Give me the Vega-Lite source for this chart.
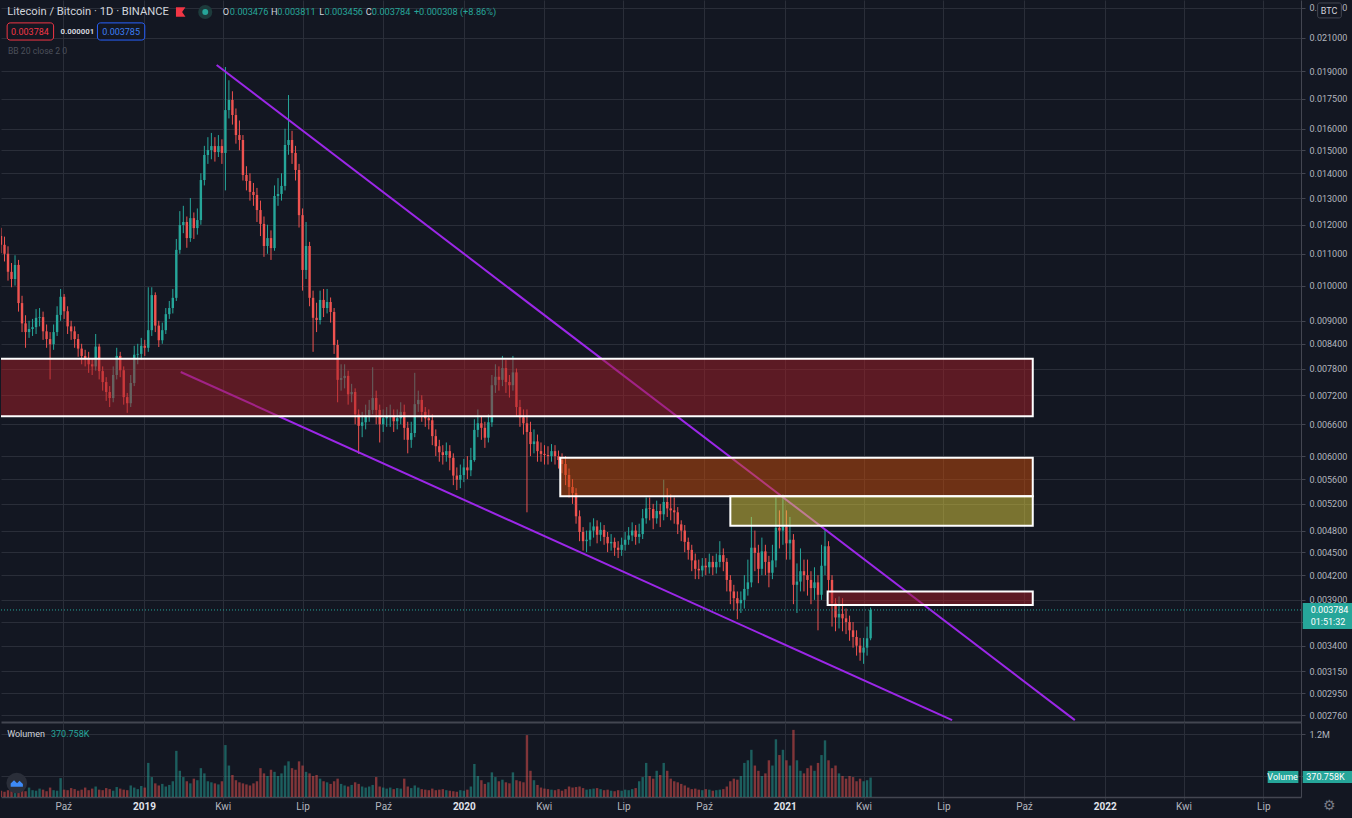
{
  "$schema": "https://vega.github.io/schema/vega-lite/v6.json",
  "description": "Litecoin / Bitcoin daily chart with falling wedge and supply zones",
  "background": "#131722",
  "padding": {"left": 0, "top": 0, "right": 0, "bottom": 4},
  "spacing": 0,
  "config": {
    "view": {"stroke": null},
    "axis": {
      "gridColor": "#2a2e39",
      "gridWidth": 1,
      "labelColor": "#b2b5be",
      "labelFont": "Roboto",
      "labelFontSize": 9,
      "tickColor": "#434651",
      "domainColor": "#434651"
    },
    "text": {"font": "Roboto"}
  },
  "datasets": {
    "candles": [
      {"t":"2018-07-22","o":0.0116,"h":0.01189,"l":0.01102,"c":0.0113,"v":120000},
      {"t":"2018-07-26","o":0.0113,"h":0.01158,"l":0.01075,"c":0.011,"v":100000},
      {"t":"2018-07-30","o":0.011,"h":0.01125,"l":0.01015,"c":0.01042,"v":130000},
      {"t":"2018-08-03","o":0.01042,"h":0.0107,"l":0.00995,"c":0.0102,"v":110000},
      {"t":"2018-08-07","o":0.0102,"h":0.01095,"l":0.01,"c":0.01064,"v":150000},
      {"t":"2018-08-11","o":0.01064,"h":0.0108,"l":0.00925,"c":0.00949,"v":120000},
      {"t":"2018-08-15","o":0.00949,"h":0.0097,"l":0.0087,"c":0.00893,"v":140000},
      {"t":"2018-08-19","o":0.00893,"h":0.00915,"l":0.0083,"c":0.0087,"v":110000},
      {"t":"2018-08-23","o":0.0087,"h":0.009,"l":0.00855,"c":0.00878,"v":180000},
      {"t":"2018-08-27","o":0.00878,"h":0.00905,"l":0.0086,"c":0.00883,"v":130000},
      {"t":"2018-08-31","o":0.00883,"h":0.00932,"l":0.00865,"c":0.00908,"v":120000},
      {"t":"2018-09-04","o":0.00908,"h":0.00935,"l":0.00885,"c":0.0091,"v":160000},
      {"t":"2018-09-08","o":0.0091,"h":0.00925,"l":0.0085,"c":0.00872,"v":140000},
      {"t":"2018-09-12","o":0.00872,"h":0.0089,"l":0.0083,"c":0.00852,"v":110000},
      {"t":"2018-09-16","o":0.00852,"h":0.0087,"l":0.00755,"c":0.00839,"v":180000},
      {"t":"2018-09-20","o":0.00839,"h":0.0089,"l":0.00825,"c":0.0087,"v":130000},
      {"t":"2018-09-24","o":0.0087,"h":0.0094,"l":0.0086,"c":0.00916,"v":120000},
      {"t":"2018-09-28","o":0.00916,"h":0.0099,"l":0.009,"c":0.00967,"v":360000},
      {"t":"2018-10-02","o":0.00967,"h":0.00975,"l":0.00905,"c":0.00926,"v":140000},
      {"t":"2018-10-06","o":0.00926,"h":0.0094,"l":0.00865,"c":0.00885,"v":130000},
      {"t":"2018-10-10","o":0.00885,"h":0.009,"l":0.0085,"c":0.00872,"v":170000},
      {"t":"2018-10-14","o":0.00872,"h":0.00885,"l":0.0083,"c":0.00852,"v":150000},
      {"t":"2018-10-18","o":0.00852,"h":0.00865,"l":0.00808,"c":0.00828,"v":120000},
      {"t":"2018-10-22","o":0.00828,"h":0.0084,"l":0.0079,"c":0.0081,"v":140000},
      {"t":"2018-10-26","o":0.0081,"h":0.00825,"l":0.00785,"c":0.00805,"v":180000},
      {"t":"2018-10-30","o":0.00805,"h":0.0082,"l":0.0077,"c":0.0079,"v":130000},
      {"t":"2018-11-03","o":0.0079,"h":0.00805,"l":0.00765,"c":0.00785,"v":160000},
      {"t":"2018-11-07","o":0.00785,"h":0.00865,"l":0.00775,"c":0.00833,"v":200000},
      {"t":"2018-11-11","o":0.00833,"h":0.0084,"l":0.00755,"c":0.00774,"v":140000},
      {"t":"2018-11-15","o":0.00774,"h":0.00785,"l":0.0073,"c":0.00749,"v":130000},
      {"t":"2018-11-19","o":0.00749,"h":0.0076,"l":0.00708,"c":0.00727,"v":170000},
      {"t":"2018-11-23","o":0.00727,"h":0.0074,"l":0.00695,"c":0.00714,"v":150000},
      {"t":"2018-11-27","o":0.00714,"h":0.00785,"l":0.00705,"c":0.00765,"v":120000},
      {"t":"2018-12-01","o":0.00765,"h":0.0083,"l":0.00755,"c":0.0081,"v":190000},
      {"t":"2018-12-05","o":0.0081,"h":0.0082,"l":0.0076,"c":0.00776,"v":160000},
      {"t":"2018-12-09","o":0.00776,"h":0.00785,"l":0.007,"c":0.00716,"v":140000},
      {"t":"2018-12-13","o":0.00716,"h":0.00725,"l":0.00683,"c":0.00703,"v":130000},
      {"t":"2018-12-17","o":0.00703,"h":0.00765,"l":0.00695,"c":0.00747,"v":220000},
      {"t":"2018-12-21","o":0.00747,"h":0.00835,"l":0.0074,"c":0.00813,"v":180000},
      {"t":"2018-12-25","o":0.00813,"h":0.0084,"l":0.0079,"c":0.00815,"v":150000},
      {"t":"2018-12-29","o":0.00815,"h":0.00855,"l":0.008,"c":0.00835,"v":210000},
      {"t":"2019-01-02","o":0.00835,"h":0.0085,"l":0.0081,"c":0.0083,"v":180000},
      {"t":"2019-01-06","o":0.0083,"h":0.00995,"l":0.0082,"c":0.00875,"v":650000},
      {"t":"2019-01-10","o":0.00875,"h":0.00995,"l":0.0086,"c":0.00972,"v":380000},
      {"t":"2019-01-14","o":0.00972,"h":0.0098,"l":0.0087,"c":0.00887,"v":260000},
      {"t":"2019-01-18","o":0.00887,"h":0.009,"l":0.00832,"c":0.00849,"v":220000},
      {"t":"2019-01-22","o":0.00849,"h":0.00895,"l":0.0084,"c":0.00875,"v":250000},
      {"t":"2019-01-26","o":0.00875,"h":0.00935,"l":0.00865,"c":0.00918,"v":200000},
      {"t":"2019-01-30","o":0.00918,"h":0.00955,"l":0.00905,"c":0.00935,"v":230000},
      {"t":"2019-02-03","o":0.00935,"h":0.0099,"l":0.0092,"c":0.00964,"v":300000},
      {"t":"2019-02-07","o":0.00964,"h":0.0115,"l":0.00955,"c":0.01113,"v":880000},
      {"t":"2019-02-11","o":0.01113,"h":0.0125,"l":0.011,"c":0.01199,"v":500000},
      {"t":"2019-02-15","o":0.01199,"h":0.0127,"l":0.0117,"c":0.0121,"v":380000},
      {"t":"2019-02-19","o":0.0121,"h":0.0123,"l":0.0112,"c":0.01153,"v":300000},
      {"t":"2019-02-23","o":0.01153,"h":0.013,"l":0.0114,"c":0.01224,"v":260000},
      {"t":"2019-02-27","o":0.01224,"h":0.01245,"l":0.0115,"c":0.01188,"v":350000},
      {"t":"2019-03-03","o":0.01188,"h":0.0126,"l":0.01165,"c":0.01217,"v":320000},
      {"t":"2019-03-07","o":0.01217,"h":0.014,"l":0.012,"c":0.01372,"v":550000},
      {"t":"2019-03-11","o":0.01372,"h":0.0152,"l":0.0135,"c":0.01479,"v":450000},
      {"t":"2019-03-15","o":0.01479,"h":0.0156,"l":0.0144,"c":0.01501,"v":300000},
      {"t":"2019-03-19","o":0.01501,"h":0.0158,"l":0.0146,"c":0.01519,"v":280000},
      {"t":"2019-03-23","o":0.01519,"h":0.0156,"l":0.0145,"c":0.01492,"v":260000},
      {"t":"2019-03-27","o":0.01492,"h":0.0157,"l":0.0147,"c":0.01519,"v":240000},
      {"t":"2019-03-31","o":0.01519,"h":0.0155,"l":0.0144,"c":0.01488,"v":300000},
      {"t":"2019-04-04","o":0.01488,"h":0.01925,"l":0.0133,"c":0.01692,"v":990000},
      {"t":"2019-04-08","o":0.01692,"h":0.0185,"l":0.0165,"c":0.01744,"v":600000},
      {"t":"2019-04-12","o":0.01744,"h":0.0179,"l":0.0162,"c":0.01667,"v":420000},
      {"t":"2019-04-16","o":0.01667,"h":0.017,"l":0.0153,"c":0.0157,"v":320000},
      {"t":"2019-04-20","o":0.0157,"h":0.0164,"l":0.015,"c":0.01547,"v":280000},
      {"t":"2019-04-24","o":0.01547,"h":0.0157,"l":0.0137,"c":0.01393,"v":260000},
      {"t":"2019-04-28","o":0.01393,"h":0.0143,"l":0.0133,"c":0.01368,"v":240000},
      {"t":"2019-05-02","o":0.01368,"h":0.014,"l":0.0129,"c":0.01324,"v":220000},
      {"t":"2019-05-06","o":0.01324,"h":0.0136,"l":0.0127,"c":0.01312,"v":260000},
      {"t":"2019-05-10","o":0.01312,"h":0.0134,"l":0.0121,"c":0.01254,"v":300000},
      {"t":"2019-05-14","o":0.01254,"h":0.0129,"l":0.0116,"c":0.01203,"v":550000},
      {"t":"2019-05-18","o":0.01203,"h":0.0123,"l":0.0109,"c":0.01126,"v":450000},
      {"t":"2019-05-22","o":0.01126,"h":0.012,"l":0.011,"c":0.01153,"v":400000},
      {"t":"2019-05-26","o":0.01153,"h":0.0118,"l":0.0108,"c":0.01119,"v":520000},
      {"t":"2019-05-30","o":0.01119,"h":0.0135,"l":0.0111,"c":0.01308,"v":480000},
      {"t":"2019-06-03","o":0.01308,"h":0.0138,"l":0.0127,"c":0.01316,"v":400000},
      {"t":"2019-06-07","o":0.01316,"h":0.014,"l":0.0129,"c":0.01348,"v":450000},
      {"t":"2019-06-11","o":0.01348,"h":0.016,"l":0.0133,"c":0.01524,"v":600000},
      {"t":"2019-06-15","o":0.01524,"h":0.0177,"l":0.0148,"c":0.01547,"v":680000},
      {"t":"2019-06-19","o":0.01547,"h":0.0159,"l":0.0144,"c":0.01488,"v":550000},
      {"t":"2019-06-23","o":0.01488,"h":0.0152,"l":0.0137,"c":0.01414,"v":520000},
      {"t":"2019-06-27","o":0.01414,"h":0.0144,"l":0.0119,"c":0.01235,"v":680000},
      {"t":"2019-07-01","o":0.01235,"h":0.0126,"l":0.00985,"c":0.01048,"v":600000},
      {"t":"2019-07-05","o":0.01048,"h":0.0121,"l":0.0102,"c":0.01126,"v":480000},
      {"t":"2019-07-09","o":0.01126,"h":0.0114,"l":0.0094,"c":0.00964,"v":450000},
      {"t":"2019-07-13","o":0.00964,"h":0.00985,"l":0.0082,"c":0.00908,"v":400000},
      {"t":"2019-07-17","o":0.00908,"h":0.0095,"l":0.0087,"c":0.00902,"v":420000},
      {"t":"2019-07-21","o":0.00902,"h":0.00985,"l":0.0089,"c":0.00958,"v":350000},
      {"t":"2019-07-25","o":0.00958,"h":0.0099,"l":0.0091,"c":0.00935,"v":300000},
      {"t":"2019-07-29","o":0.00935,"h":0.0099,"l":0.0092,"c":0.00952,"v":280000},
      {"t":"2019-08-02","o":0.00952,"h":0.00965,"l":0.00895,"c":0.00924,"v":250000},
      {"t":"2019-08-06","o":0.00924,"h":0.00935,"l":0.00815,"c":0.00837,"v":300000},
      {"t":"2019-08-10","o":0.00837,"h":0.0085,"l":0.00705,"c":0.00754,"v":350000},
      {"t":"2019-08-14","o":0.00754,"h":0.0079,"l":0.0073,"c":0.00758,"v":250000},
      {"t":"2019-08-18","o":0.00758,"h":0.0079,"l":0.00735,"c":0.00763,"v":220000},
      {"t":"2019-08-22","o":0.00763,"h":0.00775,"l":0.007,"c":0.00722,"v":200000},
      {"t":"2019-08-26","o":0.00722,"h":0.00745,"l":0.00705,"c":0.00727,"v":230000},
      {"t":"2019-08-30","o":0.00727,"h":0.00735,"l":0.0066,"c":0.0068,"v":280000},
      {"t":"2019-09-03","o":0.0068,"h":0.0069,"l":0.00604,"c":0.00657,"v":250000},
      {"t":"2019-09-07","o":0.00657,"h":0.00685,"l":0.00635,"c":0.00664,"v":200000},
      {"t":"2019-09-11","o":0.00664,"h":0.007,"l":0.0065,"c":0.00678,"v":180000},
      {"t":"2019-09-15","o":0.00678,"h":0.0071,"l":0.00665,"c":0.00689,"v":200000},
      {"t":"2019-09-19","o":0.00689,"h":0.00783,"l":0.0068,"c":0.00714,"v":230000},
      {"t":"2019-09-23","o":0.00714,"h":0.0073,"l":0.0066,"c":0.00689,"v":380000},
      {"t":"2019-09-27","o":0.00689,"h":0.007,"l":0.00625,"c":0.0066,"v":200000},
      {"t":"2019-10-01","o":0.0066,"h":0.0069,"l":0.00645,"c":0.00672,"v":180000},
      {"t":"2019-10-05","o":0.00672,"h":0.00695,"l":0.00655,"c":0.00675,"v":160000},
      {"t":"2019-10-09","o":0.00675,"h":0.007,"l":0.00655,"c":0.00678,"v":180000},
      {"t":"2019-10-13","o":0.00678,"h":0.0069,"l":0.00645,"c":0.00666,"v":150000},
      {"t":"2019-10-17","o":0.00666,"h":0.0069,"l":0.0065,"c":0.00672,"v":170000},
      {"t":"2019-10-21","o":0.00672,"h":0.00705,"l":0.0066,"c":0.00685,"v":160000},
      {"t":"2019-10-25","o":0.00685,"h":0.007,"l":0.0063,"c":0.00653,"v":350000},
      {"t":"2019-10-29","o":0.00653,"h":0.00665,"l":0.00605,"c":0.0063,"v":200000},
      {"t":"2019-11-02","o":0.0063,"h":0.00665,"l":0.00615,"c":0.00643,"v":170000},
      {"t":"2019-11-06","o":0.00643,"h":0.0077,"l":0.00635,"c":0.00701,"v":220000},
      {"t":"2019-11-10","o":0.00701,"h":0.0073,"l":0.00685,"c":0.0071,"v":180000},
      {"t":"2019-11-14","o":0.0071,"h":0.0072,"l":0.00665,"c":0.00685,"v":150000},
      {"t":"2019-11-18","o":0.00685,"h":0.00695,"l":0.00655,"c":0.00672,"v":140000},
      {"t":"2019-11-22","o":0.00672,"h":0.0069,"l":0.0065,"c":0.00668,"v":130000},
      {"t":"2019-11-26","o":0.00668,"h":0.0068,"l":0.0062,"c":0.00637,"v":160000},
      {"t":"2019-11-30","o":0.00637,"h":0.0065,"l":0.006,"c":0.00618,"v":130000},
      {"t":"2019-12-04","o":0.00618,"h":0.0063,"l":0.0059,"c":0.00607,"v":140000},
      {"t":"2019-12-08","o":0.00607,"h":0.0062,"l":0.00585,"c":0.00602,"v":150000},
      {"t":"2019-12-12","o":0.00602,"h":0.00625,"l":0.0059,"c":0.00609,"v":130000},
      {"t":"2019-12-16","o":0.00609,"h":0.0062,"l":0.00575,"c":0.00597,"v":120000},
      {"t":"2019-12-20","o":0.00597,"h":0.00605,"l":0.0055,"c":0.00566,"v":110000},
      {"t":"2019-12-24","o":0.00566,"h":0.0058,"l":0.00542,"c":0.00559,"v":100000},
      {"t":"2019-12-28","o":0.00559,"h":0.00585,"l":0.00545,"c":0.00567,"v":130000},
      {"t":"2020-01-01","o":0.00567,"h":0.00595,"l":0.00555,"c":0.0058,"v":120000},
      {"t":"2020-01-05","o":0.0058,"h":0.006,"l":0.0056,"c":0.00575,"v":140000},
      {"t":"2020-01-09","o":0.00575,"h":0.00615,"l":0.00565,"c":0.00593,"v":200000},
      {"t":"2020-01-13","o":0.00593,"h":0.0067,"l":0.0059,"c":0.00649,"v":630000},
      {"t":"2020-01-17","o":0.00649,"h":0.0069,"l":0.00635,"c":0.00662,"v":400000},
      {"t":"2020-01-21","o":0.00662,"h":0.00675,"l":0.0063,"c":0.00653,"v":320000},
      {"t":"2020-01-25","o":0.00653,"h":0.00665,"l":0.00615,"c":0.00634,"v":250000},
      {"t":"2020-01-29","o":0.00634,"h":0.0068,"l":0.00625,"c":0.00664,"v":280000},
      {"t":"2020-02-02","o":0.00664,"h":0.00765,"l":0.00655,"c":0.00742,"v":470000},
      {"t":"2020-02-06","o":0.00742,"h":0.0079,"l":0.00725,"c":0.00761,"v":380000},
      {"t":"2020-02-10","o":0.00761,"h":0.00785,"l":0.0073,"c":0.00754,"v":300000},
      {"t":"2020-02-14","o":0.00754,"h":0.0081,"l":0.0074,"c":0.00781,"v":330000},
      {"t":"2020-02-18","o":0.00781,"h":0.008,"l":0.00725,"c":0.00749,"v":280000},
      {"t":"2020-02-22","o":0.00749,"h":0.00765,"l":0.00715,"c":0.00742,"v":260000},
      {"t":"2020-02-26","o":0.00742,"h":0.0081,"l":0.0073,"c":0.00771,"v":470000},
      {"t":"2020-03-01","o":0.00771,"h":0.0078,"l":0.00675,"c":0.00695,"v":320000},
      {"t":"2020-03-05","o":0.00695,"h":0.0071,"l":0.00655,"c":0.00674,"v":300000},
      {"t":"2020-03-09","o":0.00674,"h":0.0069,"l":0.0064,"c":0.00662,"v":280000},
      {"t":"2020-03-13","o":0.00662,"h":0.0069,"l":0.00507,"c":0.00645,"v":1180000},
      {"t":"2020-03-17","o":0.00645,"h":0.00665,"l":0.006,"c":0.00622,"v":500000},
      {"t":"2020-03-21","o":0.00622,"h":0.0065,"l":0.00605,"c":0.00627,"v":320000},
      {"t":"2020-03-25","o":0.00627,"h":0.0064,"l":0.0059,"c":0.00609,"v":230000},
      {"t":"2020-03-29","o":0.00609,"h":0.00625,"l":0.0059,"c":0.00604,"v":180000},
      {"t":"2020-04-02","o":0.00604,"h":0.0062,"l":0.00585,"c":0.00602,"v":160000},
      {"t":"2020-04-06","o":0.00602,"h":0.00618,"l":0.00585,"c":0.006,"v":150000},
      {"t":"2020-04-10","o":0.006,"h":0.00622,"l":0.0059,"c":0.00609,"v":140000},
      {"t":"2020-04-14","o":0.00609,"h":0.0062,"l":0.00585,"c":0.006,"v":130000},
      {"t":"2020-04-18","o":0.006,"h":0.0061,"l":0.00578,"c":0.00593,"v":150000},
      {"t":"2020-04-22","o":0.00593,"h":0.00605,"l":0.0057,"c":0.00586,"v":120000},
      {"t":"2020-04-26","o":0.00586,"h":0.006,"l":0.0055,"c":0.00567,"v":150000},
      {"t":"2020-04-30","o":0.00567,"h":0.00578,"l":0.0053,"c":0.00547,"v":200000},
      {"t":"2020-05-04","o":0.00547,"h":0.0056,"l":0.0052,"c":0.00537,"v":180000},
      {"t":"2020-05-08","o":0.00537,"h":0.00545,"l":0.0049,"c":0.00501,"v":190000},
      {"t":"2020-05-12","o":0.00501,"h":0.0051,"l":0.00465,"c":0.00478,"v":200000},
      {"t":"2020-05-16","o":0.00478,"h":0.00485,"l":0.00452,"c":0.00465,"v":170000},
      {"t":"2020-05-20","o":0.00465,"h":0.0048,"l":0.0045,"c":0.00467,"v":140000},
      {"t":"2020-05-24","o":0.00467,"h":0.00492,"l":0.00458,"c":0.0048,"v":150000},
      {"t":"2020-05-28","o":0.0048,"h":0.00498,"l":0.0047,"c":0.00486,"v":160000},
      {"t":"2020-06-01","o":0.00486,"h":0.00495,"l":0.00462,"c":0.00474,"v":170000},
      {"t":"2020-06-05","o":0.00474,"h":0.00492,"l":0.00465,"c":0.00481,"v":150000},
      {"t":"2020-06-09","o":0.00481,"h":0.00488,"l":0.0046,"c":0.00471,"v":130000},
      {"t":"2020-06-13","o":0.00471,"h":0.00478,"l":0.0045,"c":0.00462,"v":140000},
      {"t":"2020-06-17","o":0.00462,"h":0.00475,"l":0.00452,"c":0.00464,"v":120000},
      {"t":"2020-06-21","o":0.00464,"h":0.0047,"l":0.00445,"c":0.00456,"v":110000},
      {"t":"2020-06-25","o":0.00456,"h":0.00465,"l":0.00442,"c":0.00453,"v":130000},
      {"t":"2020-06-29","o":0.00453,"h":0.0047,"l":0.00445,"c":0.0046,"v":120000},
      {"t":"2020-07-03","o":0.0046,"h":0.00478,"l":0.00452,"c":0.00467,"v":140000},
      {"t":"2020-07-07","o":0.00467,"h":0.00485,"l":0.0046,"c":0.00473,"v":130000},
      {"t":"2020-07-11","o":0.00473,"h":0.00492,"l":0.00465,"c":0.0048,"v":150000},
      {"t":"2020-07-15","o":0.0048,"h":0.00488,"l":0.0046,"c":0.00471,"v":170000},
      {"t":"2020-07-19","o":0.00471,"h":0.0049,"l":0.00462,"c":0.00475,"v":300000},
      {"t":"2020-07-23","o":0.00475,"h":0.00512,"l":0.00468,"c":0.00498,"v":380000},
      {"t":"2020-07-27","o":0.00498,"h":0.0053,"l":0.0049,"c":0.00513,"v":650000},
      {"t":"2020-07-31","o":0.00513,"h":0.0053,"l":0.00495,"c":0.00512,"v":400000},
      {"t":"2020-08-04","o":0.00512,"h":0.0052,"l":0.00482,"c":0.00498,"v":350000},
      {"t":"2020-08-08","o":0.00498,"h":0.00525,"l":0.0049,"c":0.00509,"v":500000},
      {"t":"2020-08-12","o":0.00509,"h":0.0052,"l":0.00485,"c":0.00504,"v":420000},
      {"t":"2020-08-16","o":0.00504,"h":0.00559,"l":0.00495,"c":0.00523,"v":650000},
      {"t":"2020-08-20","o":0.00523,"h":0.00545,"l":0.005,"c":0.00513,"v":500000},
      {"t":"2020-08-24","o":0.00513,"h":0.00535,"l":0.00495,"c":0.0051,"v":350000},
      {"t":"2020-08-28","o":0.0051,"h":0.0053,"l":0.0049,"c":0.00507,"v":300000},
      {"t":"2020-09-01","o":0.00507,"h":0.00515,"l":0.00475,"c":0.00489,"v":280000},
      {"t":"2020-09-05","o":0.00489,"h":0.00495,"l":0.00465,"c":0.0048,"v":250000},
      {"t":"2020-09-09","o":0.0048,"h":0.00488,"l":0.0045,"c":0.00464,"v":220000},
      {"t":"2020-09-13","o":0.00464,"h":0.0047,"l":0.0044,"c":0.00453,"v":180000},
      {"t":"2020-09-17","o":0.00453,"h":0.0046,"l":0.00425,"c":0.00439,"v":150000},
      {"t":"2020-09-21","o":0.00439,"h":0.00448,"l":0.00415,"c":0.00428,"v":160000},
      {"t":"2020-09-25","o":0.00428,"h":0.0044,"l":0.00415,"c":0.00426,"v":140000},
      {"t":"2020-09-29","o":0.00426,"h":0.00442,"l":0.00418,"c":0.00432,"v":130000},
      {"t":"2020-10-03","o":0.00432,"h":0.00442,"l":0.0042,"c":0.0043,"v":150000},
      {"t":"2020-10-07","o":0.0043,"h":0.00448,"l":0.00422,"c":0.00437,"v":140000},
      {"t":"2020-10-11","o":0.00437,"h":0.00445,"l":0.0042,"c":0.0043,"v":120000},
      {"t":"2020-10-15","o":0.0043,"h":0.00448,"l":0.00422,"c":0.00437,"v":130000},
      {"t":"2020-10-19","o":0.00437,"h":0.00465,"l":0.0043,"c":0.00446,"v":140000},
      {"t":"2020-10-23","o":0.00446,"h":0.00455,"l":0.00425,"c":0.00437,"v":150000},
      {"t":"2020-10-27","o":0.00437,"h":0.00442,"l":0.004,"c":0.00414,"v":200000},
      {"t":"2020-10-31","o":0.00414,"h":0.0042,"l":0.00385,"c":0.004,"v":300000},
      {"t":"2020-11-04","o":0.004,"h":0.00408,"l":0.00378,"c":0.00392,"v":350000},
      {"t":"2020-11-08","o":0.00392,"h":0.004,"l":0.00368,"c":0.00386,"v":330000},
      {"t":"2020-11-12","o":0.00386,"h":0.004,"l":0.00375,"c":0.0039,"v":400000},
      {"t":"2020-11-16","o":0.0039,"h":0.0042,"l":0.0038,"c":0.00403,"v":650000},
      {"t":"2020-11-20","o":0.00403,"h":0.0044,"l":0.00395,"c":0.00411,"v":700000},
      {"t":"2020-11-24","o":0.00411,"h":0.005,"l":0.00405,"c":0.00456,"v":900000},
      {"t":"2020-11-28","o":0.00456,"h":0.0048,"l":0.00425,"c":0.00449,"v":600000},
      {"t":"2020-12-02","o":0.00449,"h":0.0046,"l":0.0041,"c":0.00428,"v":500000},
      {"t":"2020-12-06","o":0.00428,"h":0.0047,"l":0.0042,"c":0.00451,"v":400000},
      {"t":"2020-12-10","o":0.00451,"h":0.0046,"l":0.0042,"c":0.00437,"v":450000},
      {"t":"2020-12-14","o":0.00437,"h":0.00445,"l":0.00405,"c":0.00423,"v":700000},
      {"t":"2020-12-18","o":0.00423,"h":0.0046,"l":0.00415,"c":0.00439,"v":600000},
      {"t":"2020-12-22","o":0.00439,"h":0.0053,"l":0.0043,"c":0.00484,"v":1100000},
      {"t":"2020-12-26","o":0.00484,"h":0.0051,"l":0.00455,"c":0.0048,"v":800000},
      {"t":"2020-12-30","o":0.0048,"h":0.00535,"l":0.0046,"c":0.00486,"v":900000},
      {"t":"2021-01-03","o":0.00486,"h":0.0051,"l":0.0044,"c":0.00462,"v":700000},
      {"t":"2021-01-07","o":0.00462,"h":0.005,"l":0.0044,"c":0.00467,"v":600000},
      {"t":"2021-01-11","o":0.00467,"h":0.00475,"l":0.00385,"c":0.00408,"v":1280000},
      {"t":"2021-01-15","o":0.00408,"h":0.00435,"l":0.00375,"c":0.00412,"v":700000},
      {"t":"2021-01-19","o":0.00412,"h":0.00455,"l":0.004,"c":0.00425,"v":500000},
      {"t":"2021-01-23","o":0.00425,"h":0.0044,"l":0.004,"c":0.0042,"v":450000},
      {"t":"2021-01-27","o":0.0042,"h":0.0044,"l":0.00395,"c":0.00414,"v":550000},
      {"t":"2021-01-31","o":0.00414,"h":0.00425,"l":0.00385,"c":0.00404,"v":600000},
      {"t":"2021-02-04","o":0.00404,"h":0.0043,"l":0.0039,"c":0.00411,"v":500000},
      {"t":"2021-02-08","o":0.00411,"h":0.0042,"l":0.00356,"c":0.00396,"v":650000},
      {"t":"2021-02-12","o":0.00396,"h":0.0046,"l":0.0039,"c":0.00432,"v":800000},
      {"t":"2021-02-16","o":0.00432,"h":0.00481,"l":0.0042,"c":0.00458,"v":1080000},
      {"t":"2021-02-20","o":0.00458,"h":0.00465,"l":0.004,"c":0.00414,"v":700000},
      {"t":"2021-02-24","o":0.00414,"h":0.0042,"l":0.0036,"c":0.00386,"v":550000},
      {"t":"2021-02-28","o":0.00386,"h":0.00392,"l":0.00355,"c":0.0037,"v":600000},
      {"t":"2021-03-04","o":0.0037,"h":0.00394,"l":0.00358,"c":0.00374,"v":450000},
      {"t":"2021-03-08","o":0.00374,"h":0.00392,"l":0.00355,"c":0.00369,"v":400000},
      {"t":"2021-03-12","o":0.00369,"h":0.0038,"l":0.00352,"c":0.00365,"v":350000},
      {"t":"2021-03-16","o":0.00365,"h":0.00372,"l":0.00345,"c":0.00356,"v":400000},
      {"t":"2021-03-20","o":0.00356,"h":0.00365,"l":0.00338,"c":0.00349,"v":380000},
      {"t":"2021-03-24","o":0.00349,"h":0.00356,"l":0.0033,"c":0.0034,"v":300000},
      {"t":"2021-03-28","o":0.0034,"h":0.00348,"l":0.00325,"c":0.00333,"v":350000},
      {"t":"2021-04-01","o":0.00333,"h":0.00348,"l":0.00322,"c":0.00338,"v":300000},
      {"t":"2021-04-05","o":0.00338,"h":0.0036,"l":0.0033,"c":0.003476,"v":320000},
      {"t":"2021-04-09","o":0.003476,"h":0.003811,"l":0.003456,"c":0.003784,"v":370758}
    ]
  },
  "vconcat": [
    {
      "width": 1300,
      "height": 722,
      "data": {"values": [{}]},
      "layer": [
        {
          "data": {"name": "candles"},
          "mark": {"type": "rule", "strokeWidth": 1, "clip": true},
          "encoding": {
            "x": {
              "field": "t", "type": "temporal",
              "scale": {"type": "utc", "nice": false, "padding": 0, "domain": [{"year": 2018, "month": 7, "date": 22, "utc": true}, {"year": 2022, "month": 8, "date": 13, "utc": true}]},
              "axis": {
                "title": null, "labels": false, "ticks": false, "grid": true, "domain": true, "domainWidth": 2,
                "values": [
                  {"year": 2018, "month": 10, "date": 1, "utc": true}, {"year": 2019, "month": 1, "date": 1, "utc": true},
                  {"year": 2019, "month": 4, "date": 1, "utc": true}, {"year": 2019, "month": 7, "date": 1, "utc": true},
                  {"year": 2019, "month": 10, "date": 1, "utc": true}, {"year": 2020, "month": 1, "date": 1, "utc": true},
                  {"year": 2020, "month": 4, "date": 1, "utc": true}, {"year": 2020, "month": 7, "date": 1, "utc": true},
                  {"year": 2020, "month": 10, "date": 1, "utc": true}, {"year": 2021, "month": 1, "date": 1, "utc": true},
                  {"year": 2021, "month": 4, "date": 1, "utc": true}, {"year": 2021, "month": 7, "date": 1, "utc": true},
                  {"year": 2021, "month": 10, "date": 1, "utc": true}, {"year": 2022, "month": 1, "date": 1, "utc": true},
                  {"year": 2022, "month": 4, "date": 1, "utc": true}, {"year": 2022, "month": 7, "date": 1, "utc": true}
                ]
              }
            },
            "y": {
              "field": "l", "type": "quantitative",
              "scale": {"type": "log", "nice": false, "domain": [0.002705, 0.02353]},
              "axis": {
                "title": null, "orient": "right", "grid": true, "tickSize": 4, "labelPadding": 4,
                "labelExpr": "datum.value == 0.00365 ? '' : format(datum.value, '.6f')",
                "values": [0.023, 0.021, 0.019, 0.0175, 0.016, 0.015, 0.014, 0.013, 0.012, 0.011, 0.01, 0.009, 0.0084, 0.0078, 0.0072, 0.0066, 0.006, 0.0056, 0.0052, 0.0048, 0.0045, 0.0042, 0.0039, 0.00365, 0.0034, 0.00315, 0.00295, 0.00276]
              }
            },
            "y2": {"field": "h"},
            "color": {"condition": {"test": "datum.c >= datum.o", "value": "#26a69a"}, "value": "#ef5350"}
          }
        },
        {
          "data": {"name": "candles"},
          "mark": {"type": "bar", "size": 2.4, "clip": true},
          "encoding": {
            "x": {"field": "t", "type": "temporal"},
            "y": {"field": "o", "type": "quantitative"},
            "y2": {"field": "c"},
            "color": {"condition": {"test": "datum.c >= datum.o", "value": "#26a69a"}, "value": "#ef5350"}
          }
        },
        {
          "data": {"values": [
            {"g": "upper", "t": "2019-03-25", "p": 0.01937},
            {"g": "upper", "t": "2021-11-28", "p": 0.00272},
            {"g": "lower", "t": "2019-02-12", "p": 0.00772},
            {"g": "lower", "t": "2021-07-11", "p": 0.00272}
          ]},
          "mark": {"type": "line", "color": "#9c27e8", "strokeWidth": 2, "clip": true},
          "encoding": {
            "x": {"field": "t", "type": "temporal"},
            "y": {"field": "p", "type": "quantitative"},
            "detail": {"field": "g"}
          }
        },
        {
          "data": {"values": [
            {"z": "resistance", "a": "2018-07-01", "b": "2021-10-11", "lo": 0.00676, "hi": 0.00803},
            {"z": "supply", "a": "2020-04-20", "b": "2021-10-11", "lo": 0.00532, "hi": 0.00597},
            {"z": "target", "a": "2020-10-31", "b": "2021-10-11", "lo": 0.00487, "hi": 0.00532},
            {"z": "breakout", "a": "2021-02-19", "b": "2021-10-11", "lo": 0.00384, "hi": 0.004}
          ]},
          "mark": {"type": "rect", "fillOpacity": 0.5, "stroke": "#ffffff", "strokeWidth": 2, "clip": true},
          "encoding": {
            "x": {"field": "a", "type": "temporal"},
            "x2": {"field": "b"},
            "y": {"field": "lo", "type": "quantitative"},
            "y2": {"field": "hi"},
            "color": {
              "field": "z", "type": "nominal", "legend": null,
              "scale": {"domain": ["resistance", "supply", "target", "breakout"], "range": ["#a51d26", "#c94b08", "#e1cf3e", "#a51d26"]}
            }
          }
        },
        {
          "mark": {"type": "rule", "color": "#26a69a", "strokeDash": [1, 2], "strokeWidth": 1},
          "encoding": {"y": {"datum": 0.003784}}
        },
        {
          "mark": {"type": "text", "align": "left", "baseline": "middle", "fontSize": 11.2, "color": "#d1d4dc"},
          "encoding": {
            "x": {"datum": {"year": 2018, "month": 7, "date": 29, "utc": true}, "type": "temporal"},
            "y": {"datum": 0.0227},
            "text": {"value": "Litecoin / Bitcoin · 1D · BINANCE"}
          }
        },
        {
          "mark": {"type": "point", "shape": "M-1,-1L1,-1L0.3,0L1,1L-1,1Z", "filled": true, "size": 90, "color": "#f23645", "opacity": 1},
          "encoding": {
            "x": {"datum": {"year": 2019, "month": 2, "date": 12, "utc": true}, "type": "temporal"},
            "y": {"datum": 0.0227}
          }
        },
        {
          "mark": {"type": "circle", "size": 200, "color": "#1d3b3c", "opacity": 1},
          "encoding": {
            "x": {"datum": {"year": 2019, "month": 3, "date": 12, "utc": true}, "type": "temporal"},
            "y": {"datum": 0.0227}
          }
        },
        {
          "mark": {"type": "circle", "size": 35, "color": "#26a69a", "opacity": 1},
          "encoding": {
            "x": {"datum": {"year": 2019, "month": 3, "date": 12, "utc": true}, "type": "temporal"},
            "y": {"datum": 0.0227}
          }
        },
        {
          "mark": {"type": "text", "align": "left", "baseline": "middle", "fontSize": 9.2, "color": "#d1d4dc"},
          "encoding": {
            "x": {"datum": {"year": 2019, "month": 4, "date": 1, "utc": true}, "type": "temporal"},
            "y": {"datum": 0.0227},
            "text": {"value": "O"}
          }
        },
        {
          "mark": {"type": "text", "align": "left", "baseline": "middle", "fontSize": 9.2, "color": "#26a69a"},
          "encoding": {
            "x": {"datum": {"year": 2019, "month": 4, "date": 9, "utc": true}, "type": "temporal"},
            "y": {"datum": 0.0227},
            "text": {"value": "0.003476"}
          }
        },
        {
          "mark": {"type": "text", "align": "left", "baseline": "middle", "fontSize": 9.2, "color": "#d1d4dc"},
          "encoding": {
            "x": {"datum": {"year": 2019, "month": 5, "date": 26, "utc": true}, "type": "temporal"},
            "y": {"datum": 0.0227},
            "text": {"value": "H"}
          }
        },
        {
          "mark": {"type": "text", "align": "left", "baseline": "middle", "fontSize": 9.2, "color": "#26a69a"},
          "encoding": {
            "x": {"datum": {"year": 2019, "month": 6, "date": 2, "utc": true}, "type": "temporal"},
            "y": {"datum": 0.0227},
            "text": {"value": "0.003811"}
          }
        },
        {
          "mark": {"type": "text", "align": "left", "baseline": "middle", "fontSize": 9.2, "color": "#d1d4dc"},
          "encoding": {
            "x": {"datum": {"year": 2019, "month": 7, "date": 20, "utc": true}, "type": "temporal"},
            "y": {"datum": 0.0227},
            "text": {"value": "L"}
          }
        },
        {
          "mark": {"type": "text", "align": "left", "baseline": "middle", "fontSize": 9.2, "color": "#26a69a"},
          "encoding": {
            "x": {"datum": {"year": 2019, "month": 7, "date": 26, "utc": true}, "type": "temporal"},
            "y": {"datum": 0.0227},
            "text": {"value": "0.003456"}
          }
        },
        {
          "mark": {"type": "text", "align": "left", "baseline": "middle", "fontSize": 9.2, "color": "#d1d4dc"},
          "encoding": {
            "x": {"datum": {"year": 2019, "month": 9, "date": 11, "utc": true}, "type": "temporal"},
            "y": {"datum": 0.0227},
            "text": {"value": "C"}
          }
        },
        {
          "mark": {"type": "text", "align": "left", "baseline": "middle", "fontSize": 9.2, "color": "#26a69a"},
          "encoding": {
            "x": {"datum": {"year": 2019, "month": 9, "date": 18, "utc": true}, "type": "temporal"},
            "y": {"datum": 0.0227},
            "text": {"value": "0.003784"}
          }
        },
        {
          "mark": {"type": "text", "align": "left", "baseline": "middle", "fontSize": 9.2, "color": "#26a69a"},
          "encoding": {
            "x": {"datum": {"year": 2019, "month": 11, "date": 5, "utc": true}, "type": "temporal"},
            "y": {"datum": 0.0227},
            "text": {"value": "+0.000308 (+8.86%)"}
          }
        },
        {
          "mark": {"type": "rect", "fill": "#131722", "stroke": "#f23645", "strokeWidth": 1, "cornerRadius": 3},
          "encoding": {
            "x": {"datum": {"year": 2018, "month": 7, "date": 29, "utc": true}, "type": "temporal"},
            "x2": {"datum": {"year": 2018, "month": 9, "date": 20, "utc": true}},
            "y": {"datum": 0.02197},
            "y2": {"datum": 0.02087}
          }
        },
        {
          "mark": {"type": "text", "align": "center", "baseline": "middle", "fontSize": 9, "color": "#f23645"},
          "encoding": {
            "x": {"datum": {"year": 2018, "month": 8, "date": 24, "utc": true}, "type": "temporal"},
            "y": {"datum": 0.02138},
            "text": {"value": "0.003784"}
          }
        },
        {
          "mark": {"type": "text", "align": "left", "baseline": "middle", "fontSize": 7.8, "fontWeight": "bold", "color": "#d1d4dc"},
          "encoding": {
            "x": {"datum": {"year": 2018, "month": 9, "date": 28, "utc": true}, "type": "temporal"},
            "y": {"datum": 0.02138},
            "text": {"value": "0.000001"}
          }
        },
        {
          "mark": {"type": "rect", "fill": "#131722", "stroke": "#2962ff", "strokeWidth": 1, "cornerRadius": 3},
          "encoding": {
            "x": {"datum": {"year": 2018, "month": 11, "date": 9, "utc": true}, "type": "temporal"},
            "x2": {"datum": {"year": 2019, "month": 1, "date": 2, "utc": true}},
            "y": {"datum": 0.02197},
            "y2": {"datum": 0.02087}
          }
        },
        {
          "mark": {"type": "text", "align": "center", "baseline": "middle", "fontSize": 9, "color": "#3d7ff5"},
          "encoding": {
            "x": {"datum": {"year": 2018, "month": 12, "date": 6, "utc": true}, "type": "temporal"},
            "y": {"datum": 0.02138},
            "text": {"value": "0.003785"}
          }
        },
        {
          "mark": {"type": "text", "align": "left", "baseline": "middle", "fontSize": 8.6, "color": "#4c505b"},
          "encoding": {
            "x": {"datum": {"year": 2018, "month": 7, "date": 30, "utc": true}, "type": "temporal"},
            "y": {"datum": 0.0202},
            "text": {"value": "BB 20 close 2 0"}
          }
        },
        {
          "mark": {"type": "rect", "color": "#26a69a"},
          "encoding": {
            "x": {"datum": {"year": 2022, "month": 8, "date": 15, "utc": true}, "type": "temporal"},
            "x2": {"datum": {"year": 2022, "month": 10, "date": 11, "utc": true}},
            "y": {"datum": 0.003864},
            "y2": {"datum": 0.003575}
          }
        },
        {
          "mark": {"type": "text", "align": "left", "baseline": "middle", "fontSize": 9, "color": "#ffffff"},
          "encoding": {
            "x": {"datum": {"year": 2022, "month": 8, "date": 24, "utc": true}, "type": "temporal"},
            "y": {"datum": 0.003784},
            "text": {"value": "0.003784"}
          }
        },
        {
          "mark": {"type": "text", "align": "left", "baseline": "middle", "fontSize": 9, "color": "#ffffff"},
          "encoding": {
            "x": {"datum": {"year": 2022, "month": 8, "date": 24, "utc": true}, "type": "temporal"},
            "y": {"datum": 0.00365},
            "text": {"value": "01:51:32"}
          }
        },
        {
          "mark": {"type": "rect", "fill": "#131722", "stroke": "#434651", "strokeWidth": 1, "cornerRadius": 2},
          "encoding": {
            "x": {"datum": {"year": 2022, "month": 9, "date": 1, "utc": true}, "type": "temporal"},
            "x2": {"datum": {"year": 2022, "month": 9, "date": 28, "utc": true}},
            "y": {"datum": 0.02332},
            "y2": {"datum": 0.0223}
          }
        },
        {
          "mark": {"type": "text", "align": "center", "baseline": "middle", "fontSize": 9, "color": "#d1d4dc"},
          "encoding": {
            "x": {"datum": {"year": 2022, "month": 9, "date": 14, "utc": true}, "type": "temporal"},
            "y": {"datum": 0.0228},
            "text": {"value": "BTC"}
          }
        }
      ]
    },
    {
      "width": 1300,
      "height": 75,
      "data": {"values": [{}]},
      "layer": [
        {
          "data": {"name": "candles"},
          "mark": {"type": "bar", "size": 2.4, "opacity": 0.5, "clip": true},
          "encoding": {
            "x": {
              "field": "t", "type": "temporal",
              "scale": {"type": "utc", "nice": false, "padding": 0, "domain": [{"year": 2018, "month": 7, "date": 22, "utc": true}, {"year": 2022, "month": 8, "date": 13, "utc": true}]},
              "axis": {
                "title": null, "grid": true, "ticks": true, "tickSize": 3, "tickColor": "#2a2e39", "domain": true, "domainWidth": 1.5, "labelPadding": 1,
                "labelFontSize": 10,
                "labelExpr": "utcmonth(datum.value) == 0 ? utcyear(datum.value) + '' : utcmonth(datum.value) == 3 ? 'Kwi' : utcmonth(datum.value) == 6 ? 'Lip' : 'Paź'",
                "labelFontWeight": {"condition": {"test": "utcmonth(datum.value) == 0", "value": "bold"}, "value": "normal"},
                "labelColor": {"condition": {"test": "utcmonth(datum.value) == 0", "value": "#e0e3eb"}, "value": "#b2b5be"},
                "values": [
                  {"year": 2018, "month": 10, "date": 1, "utc": true}, {"year": 2019, "month": 1, "date": 1, "utc": true},
                  {"year": 2019, "month": 4, "date": 1, "utc": true}, {"year": 2019, "month": 7, "date": 1, "utc": true},
                  {"year": 2019, "month": 10, "date": 1, "utc": true}, {"year": 2020, "month": 1, "date": 1, "utc": true},
                  {"year": 2020, "month": 4, "date": 1, "utc": true}, {"year": 2020, "month": 7, "date": 1, "utc": true},
                  {"year": 2020, "month": 10, "date": 1, "utc": true}, {"year": 2021, "month": 1, "date": 1, "utc": true},
                  {"year": 2021, "month": 4, "date": 1, "utc": true}, {"year": 2021, "month": 7, "date": 1, "utc": true},
                  {"year": 2021, "month": 10, "date": 1, "utc": true}, {"year": 2022, "month": 1, "date": 1, "utc": true},
                  {"year": 2022, "month": 4, "date": 1, "utc": true}, {"year": 2022, "month": 7, "date": 1, "utc": true}
                ]
              }
            },
            "y": {
              "field": "v", "type": "quantitative",
              "scale": {"nice": false, "domain": [0, 1430000]},
              "axis": {
                "title": null, "orient": "right", "grid": true, "tickSize": 4, "labelPadding": 4,
                "values": [400000, 800000, 1200000],
                "labelExpr": "datum.value == 400000 ? '' : datum.value >= 1000000 ? format(datum.value / 1000000, '.1f') + 'M' : format(datum.value / 1000, 'd') + 'K'"
              }
            },
            "color": {"condition": {"test": "datum.c >= datum.o", "value": "#26a69a"}, "value": "#ef5350"}
          }
        },
        {
          "mark": {"type": "text", "align": "left", "baseline": "middle", "fontSize": 9, "color": "#d1d4dc"},
          "encoding": {
            "x": {"datum": {"year": 2018, "month": 7, "date": 29, "utc": true}, "type": "temporal"},
            "y": {"datum": 1200000},
            "text": {"value": "Wolumen"}
          }
        },
        {
          "mark": {"type": "text", "align": "left", "baseline": "middle", "fontSize": 9, "color": "#26a69a"},
          "encoding": {
            "x": {"datum": {"year": 2018, "month": 9, "date": 17, "utc": true}, "type": "temporal"},
            "y": {"datum": 1200000},
            "text": {"value": "370.758K"}
          }
        },
        {
          "mark": {"type": "circle", "size": 430, "color": "#2a2e39", "opacity": 1},
          "encoding": {
            "x": {"datum": {"year": 2018, "month": 8, "date": 9, "utc": true}, "type": "temporal"},
            "y": {"datum": 267000}
          }
        },
        {
          "mark": {"type": "point", "shape": "M-1,0.6L-1,0.1L-0.45,-0.45L0.05,0.05L0.45,-0.35L1,0.15L1,0.6Z", "filled": true, "size": 150, "color": "#3d8af7", "opacity": 1},
          "encoding": {
            "x": {"datum": {"year": 2018, "month": 8, "date": 9, "utc": true}, "type": "temporal"},
            "y": {"datum": 267000}
          }
        },
        {
          "mark": {"type": "rect", "color": "#26a69a"},
          "encoding": {
            "x": {"datum": {"year": 2022, "month": 7, "date": 6, "utc": true}, "type": "temporal"},
            "x2": {"datum": {"year": 2022, "month": 8, "date": 10, "utc": true}},
            "y": {"datum": 496000},
            "y2": {"datum": 267000}
          }
        },
        {
          "mark": {"type": "rect", "color": "#26a69a"},
          "encoding": {
            "x": {"datum": {"year": 2022, "month": 8, "date": 15, "utc": true}, "type": "temporal"},
            "x2": {"datum": {"year": 2022, "month": 10, "date": 11, "utc": true}},
            "y": {"datum": 496000},
            "y2": {"datum": 267000}
          }
        },
        {
          "mark": {"type": "text", "align": "center", "baseline": "middle", "fontSize": 9, "color": "#ffffff"},
          "encoding": {
            "x": {"datum": {"year": 2022, "month": 7, "date": 23, "utc": true}, "type": "temporal"},
            "y": {"datum": 381000},
            "text": {"value": "Volume"}
          }
        },
        {
          "mark": {"type": "text", "align": "left", "baseline": "middle", "fontSize": 9, "color": "#ffffff"},
          "encoding": {
            "x": {"datum": {"year": 2022, "month": 8, "date": 19, "utc": true}, "type": "temporal"},
            "y": {"datum": 381000},
            "text": {"value": "370.758K"}
          }
        },
        {
          "mark": {"type": "text", "align": "center", "baseline": "middle", "fontSize": 14, "color": "#787b86"},
          "encoding": {
            "x": {"datum": {"year": 2022, "month": 9, "date": 14, "utc": true}, "type": "temporal"},
            "y": {"datum": -172000},
            "text": {"value": "⚙"}
          }
        }
      ]
    }
  ]
}
